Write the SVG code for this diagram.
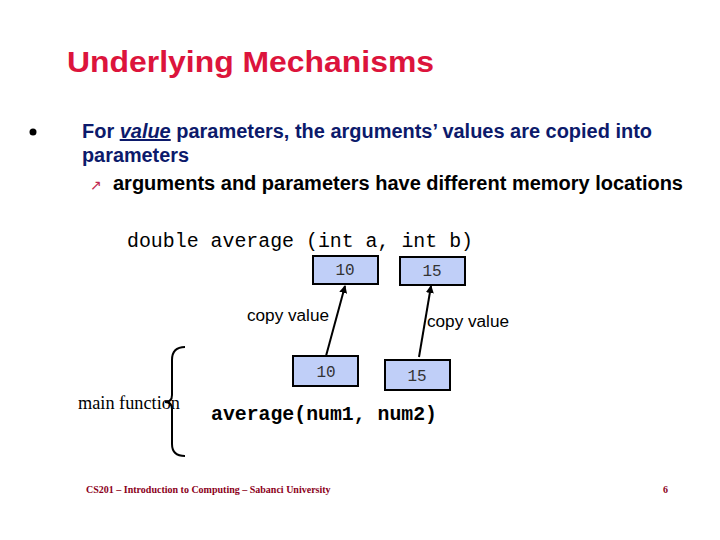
<svg xmlns="http://www.w3.org/2000/svg" width="720" height="540" viewBox="0 0 720 540">
<style>
.b{font-family:"Liberation Sans",Arial,sans-serif;font-weight:bold;font-size:20px;}
.m{font-family:"Liberation Mono","Courier New",monospace;font-size:20px;fill:#000;}
.box{fill:#c0cff8;stroke:#000;stroke-width:2;}
.bt{font-family:"Liberation Mono","Courier New",monospace;font-size:16px;fill:#333;text-anchor:middle;}
.cv{font-family:"Liberation Sans",Arial,sans-serif;font-size:16px;fill:#000;}
</style>
<defs><marker id="ah" markerWidth="8" markerHeight="8" refX="7" refY="4" orient="auto" markerUnits="userSpaceOnUse"><path d="M0,0 L8,4 L0,8 z" fill="#000"/></marker></defs>
<rect width="720" height="540" fill="#fff"/>
<text x="67" y="72" font-family="Liberation Sans,Arial,sans-serif" font-size="30" font-weight="bold" fill="#dc143c" textLength="367" lengthAdjust="spacingAndGlyphs">Underlying Mechanisms</text>
<circle cx="33" cy="132" r="3.5" fill="#000"/>
<text class="b" x="82" y="138" fill="#0c1a6b" textLength="570" lengthAdjust="spacingAndGlyphs">For <tspan font-style="italic" text-decoration="underline">value</tspan> parameters, the arguments’ values are copied into</text>
<text class="b" x="82" y="162" fill="#0c1a6b" textLength="107" lengthAdjust="spacingAndGlyphs">parameters</text>
<text x="90" y="190" font-family="Liberation Sans,sans-serif" font-size="14" fill="#c0284e">↗</text>
<text class="b" x="113" y="190" fill="#000" textLength="570" lengthAdjust="spacingAndGlyphs">arguments and parameters have different memory locations</text>
<text class="m" x="127" y="247" textLength="346" lengthAdjust="spacingAndGlyphs">double average (int a, int b)</text>
<g id="p1"><rect class="box" x="313" y="256" width="65" height="28"/><text class="bt" x="345" y="275">10</text></g>
<g id="p2"><rect class="box" x="400" y="257" width="65" height="28"/><text class="bt" x="432" y="276">15</text></g>
<g id="a1"><rect class="box" x="293" y="356" width="65" height="30"/><text class="bt" x="326" y="377">10</text></g>
<g id="a2"><rect class="box" x="385" y="360" width="65" height="30"/><text class="bt" x="417" y="381">15</text></g>
<g id="connectors" stroke="#000" stroke-width="2">
<line x1="326" y1="356" x2="345" y2="286" marker-end="url(#ah)"/>
<line x1="419" y1="357" x2="431" y2="286" marker-end="url(#ah)"/>
</g>
<text class="cv" x="247" y="321" textLength="82" lengthAdjust="spacingAndGlyphs">copy value</text>
<text class="cv" x="427" y="327" textLength="82" lengthAdjust="spacingAndGlyphs">copy value</text>
<path d="M185,347 Q172,347 172,360 L172,395 Q172,402 165,402 Q172,402 172,409 L172,444 Q172,456 185,456" fill="none" stroke="#000" stroke-width="2"/>
<text x="78" y="409" font-family="Liberation Serif,Times New Roman,serif" font-size="18" textLength="102" lengthAdjust="spacingAndGlyphs">main function</text>
<text x="211" y="420" font-family="Liberation Mono,Courier New,monospace" font-size="20" font-weight="bold" textLength="226" lengthAdjust="spacingAndGlyphs">average(num1, num2)</text>
<text x="86" y="493" font-family="Liberation Serif,serif" font-size="10" font-weight="bold" fill="#8b0020">CS201 – Introduction to Computing – Sabanci University</text>
<text x="663" y="493" font-family="Liberation Serif,serif" font-size="10" font-weight="bold" fill="#8b0020">6</text>
</svg>
